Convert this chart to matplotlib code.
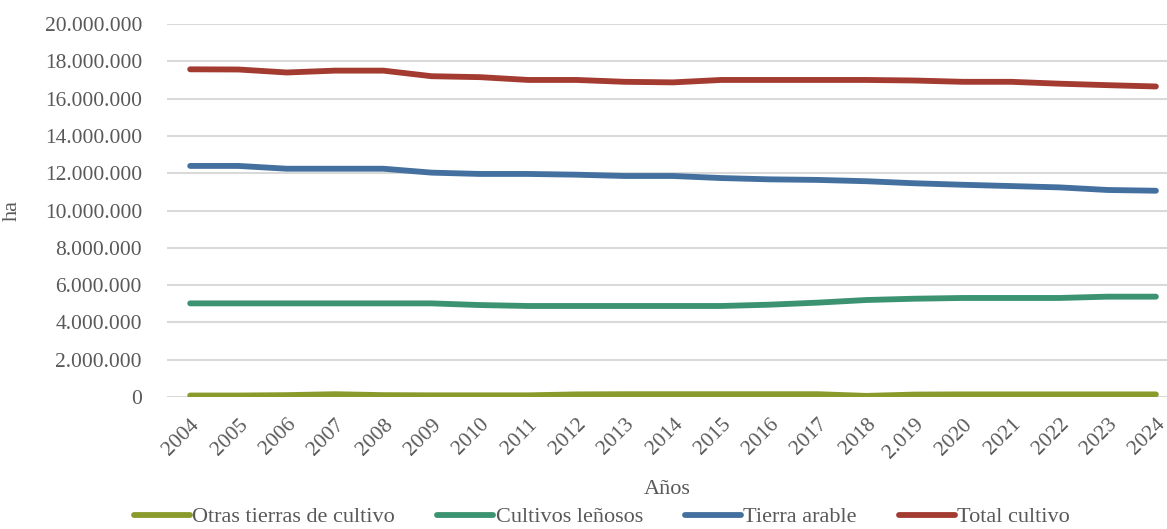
import matplotlib
matplotlib.use("Agg")
import matplotlib.pyplot as plt
from matplotlib.ticker import FuncFormatter, MultipleLocator

years = ["2004", "2005", "2006", "2007", "2008", "2009", "2010", "2011", "2012", "2013",
         "2014", "2015", "2016", "2017", "2018", "2.019", "2020", "2021", "2022", "2023", "2024"]

otras = [80000, 80000, 100000, 150000, 100000, 90000, 90000, 90000, 140000, 150000,
         150000, 150000, 150000, 150000, 60000, 130000, 140000, 140000, 140000, 140000, 140000]
lenosos = [5020000, 5020000, 5020000, 5020000, 5020000, 5020000, 4930000, 4880000, 4880000, 4880000,
           4880000, 4880000, 4950000, 5060000, 5200000, 5270000, 5310000, 5310000, 5310000, 5380000, 5380000]
arable = [12390000, 12390000, 12240000, 12240000, 12240000, 12030000, 11960000, 11960000, 11920000, 11850000,
          11850000, 11740000, 11670000, 11640000, 11570000, 11460000, 11380000, 11310000, 11240000, 11100000, 11060000]
total = [17570000, 17560000, 17400000, 17500000, 17500000, 17200000, 17150000, 17000000, 17000000, 16900000,
         16870000, 17000000, 17000000, 17000000, 17000000, 16970000, 16900000, 16900000, 16800000, 16720000, 16650000]

series_names = ["Otras tierras de cultivo", "Cultivos leñosos", "Tierra arable", "Total cultivo"]
colors = ["#8A9B2C", "#3B9371", "#43709E", "#A33B31"]

plt.rcParams['font.family'] = ['Liberation Serif', 'DejaVu Serif']
text_color = "#595959"

fig = plt.figure(figsize=(11.67, 5.29), dpi=100)
ax = fig.add_axes([167/1167, 1 - 397/529, 1 - 167/1167, (397 - 24)/529])

x = list(range(len(years)))
for vals, name, c in zip([otras, lenosos, arable, total], series_names, colors):
    ax.plot(x, vals, color=c, lw=4.2, solid_capstyle='round', solid_joinstyle='round', label=name, zorder=3)

ax.set_ylim(0, 20000000)
ax.set_xlim(-0.48, 20.23)
ax.yaxis.set_major_locator(MultipleLocator(2000000))
ax.yaxis.set_major_formatter(FuncFormatter(lambda v, p: f"{int(round(v)):,}".replace(",", ".")))
ax.set_xticks(x)
ax.set_xticklabels(years, rotation=45, ha='right', va='top', rotation_mode='anchor')
ax.grid(axis='y', color='#D9D9D9', lw=1.5, zorder=0)
for s in ax.spines.values():
    s.set_visible(False)
ax.tick_params(axis='y', length=0, colors=text_color, labelsize=15.5, pad=18)
ax.tick_params(axis='x', length=0, colors=text_color, labelsize=15.5, pad=13)

ax.set_ylabel("ha", color=text_color, fontsize=16)
ax.yaxis.set_label_coords(-145/1000, 0.5)
ax.set_xlabel("Años", color=text_color, fontsize=16)
ax.xaxis.set_label_coords(0.5, -(490 - 397)/373, transform=ax.transAxes)
ax.xaxis.label.set_va('center')

leg = fig.legend(loc='center', bbox_to_anchor=(0.516, 1 - 517/529), ncol=4, frameon=False,
                 fontsize=16, handlelength=2.5, handletextpad=0.12, columnspacing=1.9,
                 labelcolor=text_color, borderaxespad=0, borderpad=0)

fig.savefig("out.png", dpi=100)
